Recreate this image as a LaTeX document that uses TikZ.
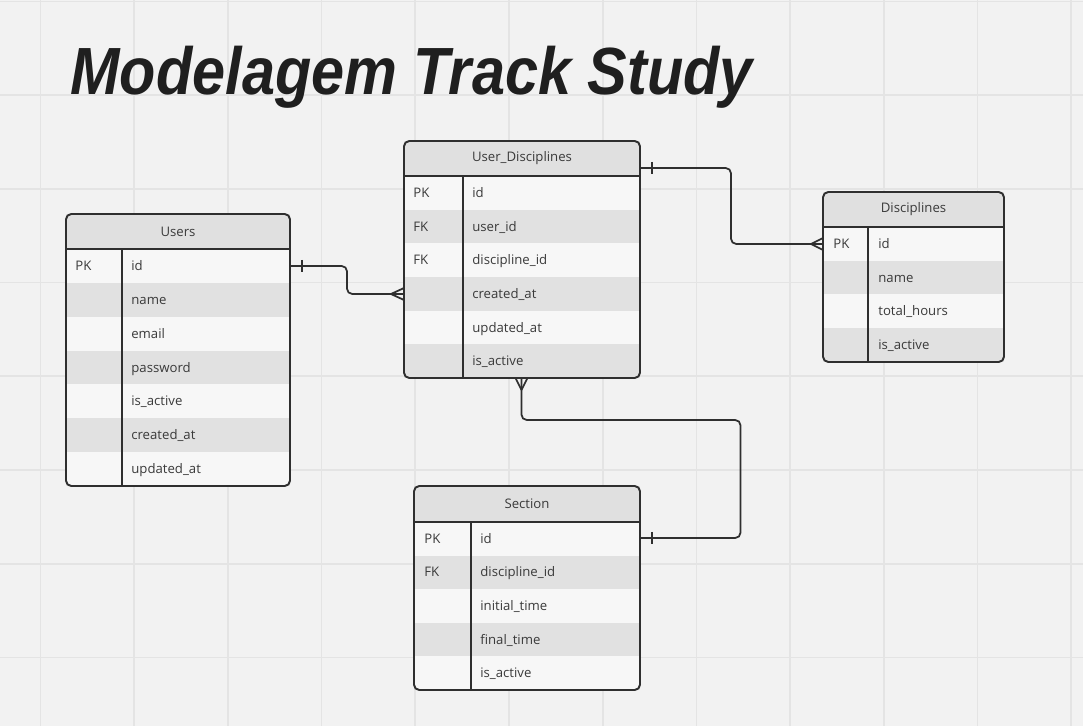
\documentclass[tikz,border=0pt]{standalone}
\usepackage{fontspec}
\setmainfont{Open Sans}
\newfontfamily\titlefont{Liberation Sans}
\usetikzlibrary{calc}
\definecolor{bgcol}{HTML}{F2F2F2}
\definecolor{gridcol}{HTML}{E4E4E4}
\definecolor{headcol}{HTML}{E0E0E0}
\definecolor{litecol}{HTML}{F7F7F7}
\definecolor{darkcol}{HTML}{E1E1E1}
\definecolor{linecol}{HTML}{2F2F2F}
\definecolor{textcol}{HTML}{3A3A3A}

\begin{document}
\begin{tikzpicture}[x=0.02cm,y=-0.02cm,
  grid/.style={draw=gridcol, line width=1pt},
  frame/.style={draw=linecol, line width=1.1pt, rounded corners=3pt},
  sep/.style={draw=linecol, line width=1.1pt},
  link/.style={draw=linecol, line width=1pt, rounded corners=3pt},
  title/.style={font=\titlefont\bfseries\itshape\fontsize{38}{40}\selectfont, text=black!88, anchor=base west, inner sep=0},
  head/.style={font=\fontsize{7.5}{9}\selectfont, text=textcol, inner sep=0},
  field/.style={font=\fontsize{7.5}{9}\selectfont, text=textcol, inner sep=0, anchor=base west, yshift=-2.6pt}]
\useasboundingbox (0,0) rectangle (1083,726);

%background and grid
\fill[bgcol] (0,0) rectangle (1083,726);
\foreach \k in {0,...,11} \draw[grid] ({40.5+93.7*\k},0) -- ({40.5+93.7*\k},726);
\foreach \k in {0,...,7}  \draw[grid] (0,{1.5+93.7*\k}) -- (1083,{1.5+93.7*\k});

%title
\node[title] (title) at (70,95) {\scalebox{0.89}[1]{Modelagem Track Study}};

%attach points
\coordinate (users-id) at (290,266);
\coordinate (ud-created) at (404,294);
\coordinate (ud-head) at (640,168);
\coordinate (disc-id) at (823,244);
\coordinate (ud-bottom) at (521.5,378);
\coordinate (sec-id) at (640,538);

%links
\draw[link] (users-id) -- (347,266) -- (347,294) -- (ud-created);              %Users--User_Disciplines
\draw[link] ($(users-id)+(12,-6)$) -- ++(0,12);
\draw[link] ($(ud-created)+(-13,0)$) -- ++(13,-6) ($(ud-created)+(-13,0)$) -- ++(13,6);
\draw[link] (ud-head) -- (731,168) -- (731,244) -- (disc-id);                  %User_Disciplines--Disciplines
\draw[link] ($(ud-head)+(12,-6)$) -- ++(0,12);
\draw[link] ($(disc-id)+(-12,0)$) -- ++(12,-6) ($(disc-id)+(-12,0)$) -- ++(12,6);
\draw[link] (ud-bottom) -- (521.5,420) -- (740.5,420) -- (740.5,538) -- (sec-id); %User_Disciplines--Section
\draw[link] ($(ud-bottom)+(0,12)$) -- ++(-6,-12) ($(ud-bottom)+(0,12)$) -- ++(6,-12);
\draw[link] ($(sec-id)+(12,-6)$) -- ++(0,12);

%Users
\coordinate (users-nw) at (66,214);
\coordinate (users-se) at (290,486);
\begin{scope}
\clip[rounded corners=3pt] (users-nw) rectangle (users-se);
\fill[litecol] (users-nw) rectangle (users-se);
\fill[headcol] (66,214) rectangle (290,249);
\foreach \y in {282.9,350.6,418.3} \fill[darkcol] (66,\y) rectangle (290,\y+33.86);
\end{scope}
\draw[sep] (66,249) -- (290,249) (122,249) -- (122,486);
\draw[frame] (users-nw) rectangle (users-se);
\node[head] (users) at (178,231.5) {Users};
\node[field] (users-pk) at (75,266) {PK};
\foreach \f [count=\i] in {id,name,email,password,is\_active,created\_at,updated\_at}
  \node[field] (users-\i) at (131,{232.1+33.86*\i}) {\f};

%User_Disciplines
\coordinate (ud-nw) at (404,141);
\coordinate (ud-se) at (640,378);
\begin{scope}
\clip[rounded corners=3pt] (ud-nw) rectangle (ud-se);
\fill[litecol] (ud-nw) rectangle (ud-se);
\fill[headcol] (404,141) rectangle (640,176);
\foreach \y in {209.7,277,344.3} \fill[darkcol] (404,\y) rectangle (640,\y+33.67);
\end{scope}
\draw[sep] (404,176) -- (640,176) (463,176) -- (463,378);
\draw[frame] (ud-nw) rectangle (ud-se);
\node[head] (ud) at (522,158.5) {User\_Disciplines};
\node[field] (ud-pk) at (413,192.8) {PK};
\node[field] (ud-fk1) at (413,226.5) {FK};
\node[field] (ud-fk2) at (413,260.2) {FK};
\foreach \f [count=\i] in {id,user\_id,discipline\_id,created\_at,updated\_at,is\_active}
  \node[field] (ud-\i) at (472,{159.2+33.67*\i}) {\f};

%Disciplines
\coordinate (disc-nw) at (823,192);
\coordinate (disc-se) at (1004,362);
\begin{scope}
\clip[rounded corners=3pt] (disc-nw) rectangle (disc-se);
\fill[litecol] (disc-nw) rectangle (disc-se);
\fill[headcol] (823,192) rectangle (1004,227);
\foreach \y in {260.75,328.25} \fill[darkcol] (823,\y) rectangle (1004,\y+33.75);
\end{scope}
\draw[sep] (823,227) -- (1004,227) (868,227) -- (868,362);
\draw[frame] (disc-nw) rectangle (disc-se);
\node[head] (disc) at (913.5,209.5) {Disciplines};
\node[field] (disc-pk) at (833,243.9) {PK};
\foreach \f [count=\i] in {id,name,total\_hours,is\_active}
  \node[field] (disc-\i) at (878,{210.1+33.75*\i}) {\f};

%Section
\coordinate (sec-nw) at (414,486);
\coordinate (sec-se) at (640,690);
\begin{scope}
\clip[rounded corners=3pt] (sec-nw) rectangle (sec-se);
\fill[litecol] (sec-nw) rectangle (sec-se);
\fill[headcol] (414,486) rectangle (640,522);
\foreach \y in {555.6,622.8} \fill[darkcol] (414,\y) rectangle (640,\y+33.6);
\end{scope}
\draw[sep] (414,522) -- (640,522) (471,522) -- (471,690);
\draw[frame] (sec-nw) rectangle (sec-se);
\node[head] (sec) at (527,504) {Section};
\node[field] (sec-pk) at (424,538.8) {PK};
\node[field] (sec-fk) at (424,572.4) {FK};
\foreach \f [count=\i] in {id,discipline\_id,initial\_time,final\_time,is\_active}
  \node[field] (sec-\i) at (480,{505.2+33.6*\i}) {\f};

\end{tikzpicture}
\end{document}
